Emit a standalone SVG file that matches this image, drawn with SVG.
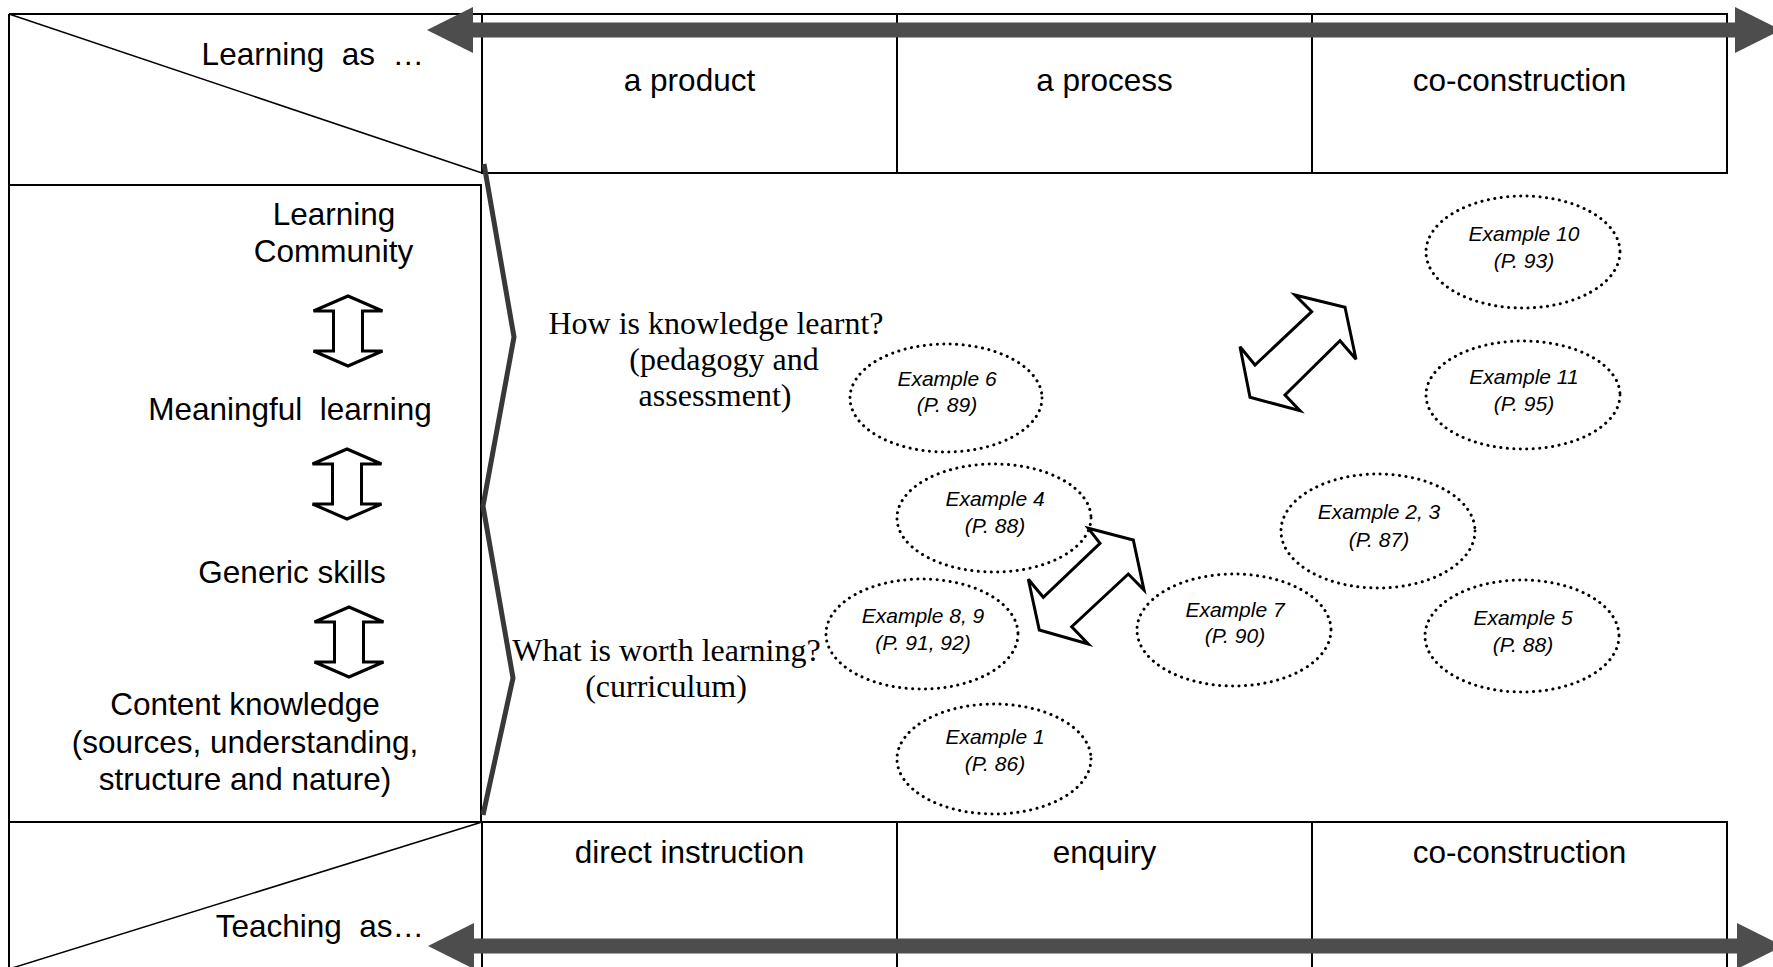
<svg xmlns="http://www.w3.org/2000/svg" xmlns:xlink="http://www.w3.org/1999/xlink" width="1773" height="967" viewBox="0 0 1773 967">
<style>
.ln{fill:none;stroke:#000;stroke-width:2}
.dg{fill:none;stroke:#000;stroke-width:1.5}
.sans{font-family:"Liberation Sans",Arial,sans-serif;font-size:31.5px;fill:#000}
.mid{text-anchor:middle}
.end{text-anchor:end}
.serif{font-family:"Liberation Serif","Times New Roman",serif;font-size:32px;fill:#000;text-anchor:middle}
.ex{fill:none;stroke:#000;stroke-width:3;stroke-dasharray:0.1 6.4;stroke-linecap:round}
.exl{font-family:"Liberation Sans",Arial,sans-serif;font-size:21px;font-style:italic;fill:#000;text-anchor:middle}
.hollow{fill:#fff;stroke:#000;stroke-width:3;stroke-linejoin:miter}
.gray{fill:#4d4d4d}
.bracket{fill:none;stroke:#383838;stroke-width:5;stroke-linejoin:miter}
</style>
<defs>
<path id="varrow" d="M0,0 L34.5,15 L14.5,15 L14.5,55 L34.5,55 L0,70 L-34.5,55 L-14.5,55 L-14.5,15 L-34.5,15 Z"/>
</defs>
<rect width="1773" height="967" fill="#fff"/>

<g id="frame">
<line class="ln" x1="9" y1="14" x2="9" y2="967"/>
<line class="ln" x1="9" y1="14" x2="1727" y2="14"/>
<line class="dg" x1="9" y1="14" x2="482" y2="173"/>
<line class="dg" x1="482" y1="822" x2="9" y2="969"/>
</g>

<g id="header-learning">
<text class="sans end" x="424" y="65" xml:space="preserve" style="white-space:pre">Learning  as  …</text>
</g>
<g id="cell-product">
<rect class="ln" x="482" y="14" width="415" height="159"/>
<text class="sans mid" x="689.5" y="91">a product</text>
</g>
<g id="cell-process">
<rect class="ln" x="897" y="14" width="415" height="159"/>
<text class="sans mid" x="1104.5" y="91">a process</text>
</g>
<g id="cell-coconstruction-top">
<rect class="ln" x="1312" y="14" width="415" height="159"/>
<text class="sans mid" x="1519.5" y="91">co-construction</text>
</g>

<g id="left-column">
<rect class="ln" x="9" y="185" width="472" height="637"/>
<text class="sans mid" x="334" y="225">Learning</text>
<text class="sans mid" x="333.5" y="262">Community</text>
<text class="sans mid" x="290" y="420" xml:space="preserve" style="white-space:pre">Meaningful  learning</text>
<text class="sans mid" x="292" y="583">Generic skills</text>
<text class="sans mid" x="245" y="715">Content knowledge</text>
<text class="sans mid" x="245" y="753">(sources, understanding,</text>
<text class="sans mid" x="245" y="790">structure and nature)</text>
</g>

<g id="header-teaching">
<text class="sans end" x="424" y="937" xml:space="preserve" style="white-space:pre">Teaching  as…</text>
</g>
<g id="cell-direct">
<rect class="ln" x="482" y="822" width="415" height="160"/>
<text class="sans mid" x="689.5" y="863">direct instruction</text>
</g>
<g id="cell-enquiry">
<rect class="ln" x="897" y="822" width="415" height="160"/>
<text class="sans mid" x="1104.5" y="863">enquiry</text>
</g>
<g id="cell-coconstruction-bottom">
<rect class="ln" x="1312" y="822" width="415" height="160"/>
<text class="sans mid" x="1519.5" y="863">co-construction</text>
</g>

<g id="bracket">
<polyline class="bracket" points="484,164 514,337 483,506 513,678 483,815"/>
</g>

<g id="q-how">
<text class="serif" x="716" y="334">How is knowledge learnt?</text>
<text class="serif" x="724" y="370">(pedagogy and</text>
<text class="serif" x="715" y="406">assessment)</text>
</g>
<g id="q-what">
<text class="serif" x="666.5" y="661">What is worth learning?</text>
<text class="serif" x="666" y="697">(curriculum)</text>
</g>

<g id="ex10"><ellipse class="ex" cx="1523" cy="252" rx="97" ry="56"/><text class="exl" x="1524" y="241">Example 10</text><text class="exl" x="1524" y="268">(P. 93)</text></g>
<g id="ex11"><ellipse class="ex" cx="1523" cy="395" rx="97" ry="54"/><text class="exl" x="1524" y="384">Example 11</text><text class="exl" x="1524" y="411">(P. 95)</text></g>
<g id="ex6"><ellipse class="ex" cx="946" cy="398" rx="96" ry="54"/><text class="exl" x="947" y="386">Example 6</text><text class="exl" x="947" y="412">(P. 89)</text></g>
<g id="ex4"><ellipse class="ex" cx="994" cy="518" rx="97" ry="54"/><text class="exl" x="995" y="506">Example 4</text><text class="exl" x="995" y="533">(P. 88)</text></g>
<g id="ex23"><ellipse class="ex" cx="1378" cy="531" rx="97" ry="57"/><text class="exl" x="1379" y="519">Example 2, 3</text><text class="exl" x="1379" y="547">(P. 87)</text></g>
<g id="ex89"><ellipse class="ex" cx="922" cy="634" rx="96" ry="55"/><text class="exl" x="923" y="623">Example 8, 9</text><text class="exl" x="923" y="650">(P. 91, 92)</text></g>
<g id="ex7"><ellipse class="ex" cx="1234" cy="630" rx="97" ry="56"/><text class="exl" x="1235" y="617">Example 7</text><text class="exl" x="1235" y="643">(P. 90)</text></g>
<g id="ex5"><ellipse class="ex" cx="1522" cy="636" rx="97" ry="56"/><text class="exl" x="1523" y="625">Example 5</text><text class="exl" x="1523" y="652">(P. 88)</text></g>
<g id="ex1"><ellipse class="ex" cx="994" cy="759" rx="97" ry="55"/><text class="exl" x="995" y="744">Example 1</text><text class="exl" x="995" y="771">(P. 86)</text></g>

<g id="connectors">
<polygon class="gray" points="427,30 473,7 473,22.5 1735,22.5 1735,7 1781,30 1735,53 1735,37.5 473,37.5 473,53"/>
<polygon class="gray" points="428,946 474,923 474,938.5 1737,938.5 1737,923 1783,946 1737,969 1737,953.5 474,953.5 474,969"/>
<use xlink:href="#varrow" href="#varrow" class="hollow" transform="translate(348,296)"/>
<use xlink:href="#varrow" href="#varrow" class="hollow" transform="translate(347,449)"/>
<use xlink:href="#varrow" href="#varrow" class="hollow" transform="translate(349,607)"/>
<polygon class="hollow" points="1295,295 1345,307.3 1356,359.3 1340,340.7 1285,395 1300,410.7 1250,397.3 1240,346.7 1255,365 1311.7,311.7"/>
<polygon class="hollow" points="1088.3,528.3 1133.3,540 1144,590 1128.3,574 1071.7,626.7 1088.3,644 1039.3,630 1028.3,579.3 1043.3,597.3 1100,543.3"/>
</g>
</svg>
